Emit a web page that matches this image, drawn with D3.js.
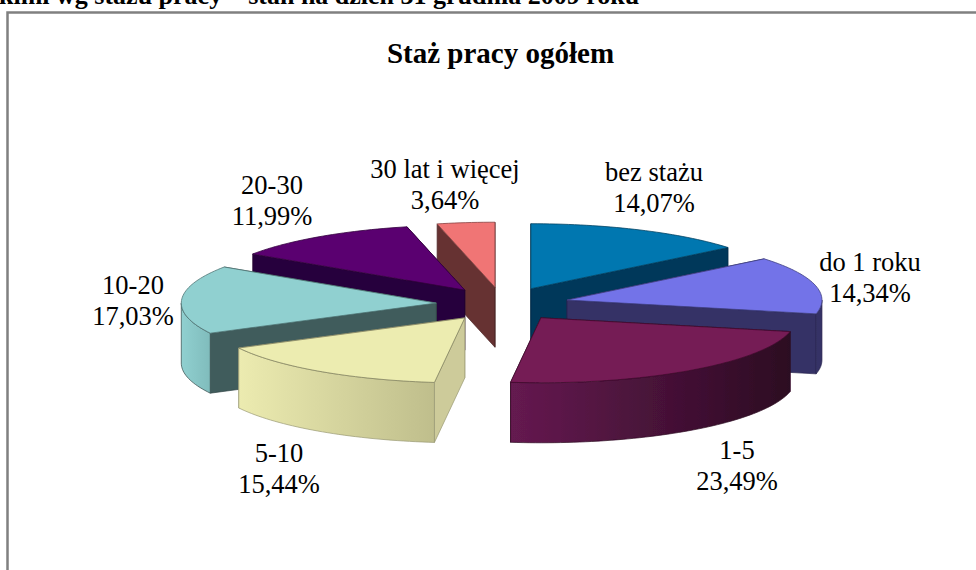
<!DOCTYPE html>
<html>
<head>
<meta charset="utf-8">
<script src="https://cdn.jsdelivr.net/npm/d3@7"></script>
<style>
  html, body { margin: 0; padding: 0; background: #fff; overflow: hidden; }
  text { font-family: "Liberation Serif", serif; fill: #000; }
</style>
</head>
<body>
<script>
const categories = ['bez stażu', 'do 1 roku', '1-5', '5-10', '10-20', '20-30', '30 lat i więcej']
const values = [14.07, 14.34, 23.49, 15.44, 17.03, 11.99, 3.64]
const valueLabels = ['14,07%', '14,34%', '23,49%', '15,44%', '17,03%', '11,99%', '3,64%']

const topColors = ['#0077b0', '#7373e8', '#751a55', '#ececb0', '#90d0d0', '#5a0070', '#f07575']
const faceColors = ['#00375a', '#343066', '#3c0d2c', '#cdcb9a', '#405c5c', '#28003c', '#663333']
const sideLeft = ['#00375a', '#343066', '#651a50', '#ecebb0', '#90d0d0', '#28003c', '#663333']
const sideRight = ['#00375a', '#343066', '#2c0a22', '#bfbe8c', '#80bcbc', '#28003c', '#663333']
const labelX = [654, 870, 737, 279, 133, 272, 445]
const labelY = [181, 271, 459, 462, 294, 194, 178]

const w = 976
const h = 570
const cx = 502.5
const cy = 304
const rx = 255
const ry = 65
const depth = 60
const explode = 0.26

const xScale = d3.scaleLinear().domain([-1, 1]).range([cx - rx, cx + rx])
const yScale = d3.scaleLinear().domain([-1, 1]).range([cy + ry, cy - ry])

const svg = d3.select('body').append('svg')
  .attr('width', w)
  .attr('height', h)
  .style('display', 'block')

const defs = svg.append('defs')
const blur = defs.append('filter').attr('id', 'soft')
blur.append('feGaussianBlur').attr('stdDeviation', 0.35)

// frame of the pasted chart
svg.append('path')
  .attr('d', 'M7.5,570V12.5H976')
  .attr('fill', 'none')
  .attr('stroke', '#808080')
  .attr('stroke-width', 2.5)

// heading above the chart, cut off by the top edge in the reference too
svg.append('text')
  .attr('x', -1)
  .attr('y', 4)
  .attr('font-size', 26)
  .attr('font-weight', 'bold')
  .text('kimi wg stażu pracy – stan na dzień 31 grudnia 2009 roku')

svg.append('text')
  .attr('x', 500.5)
  .attr('y', 63)
  .attr('text-anchor', 'middle')
  .attr('font-size', 29)
  .attr('font-weight', 'bold')
  .text('Staż pracy ogółem')

const pie = d3.pie().sort(null).value(d => d)
const slices = pie(values).map((d, i) => {
  const mid = (d.startAngle + d.endAngle) / 2
  return {
    i,
    a0: d.startAngle,
    a1: d.endAngle,
    mid,
    ox: explode * Math.sin(mid),
    oy: explode * Math.cos(mid)
  }
})

const line = d3.line().x(p => p[0]).y(p => p[1])

function rim(s, a, drop) {
  return [xScale(s.ox + Math.sin(a)), yScale(s.oy + Math.cos(a)) + drop]
}
function apex(s, drop) {
  return [xScale(s.ox), yScale(s.oy) + drop]
}
function arcPoints(s, a0, a1, drop) {
  const n = Math.max(2, Math.ceil((a1 - a0) * 40))
  return d3.range(n + 1).map(k => rim(s, a0 + (a1 - a0) * k / n, drop))
}

const order = slices.slice().sort((a, b) => Math.cos(b.mid) - Math.cos(a.mid))

const pieLayer = svg.append('g').attr('filter', 'url(#soft)')
order.forEach(s => {
  const g = pieLayer.append('g')
  const faceStroke = d3.color(faceColors[s.i]).darker(0.8)

  // radial walls, back facing ones are covered by what comes after
  const walls = [s.a0, s.a1].map((a, k) => ({ a, front: k === 0 ? Math.sin(a) <= 0.001 : Math.sin(a) > 0 }))
  walls.sort((a, b) => a.front - b.front).forEach(wall => {
    g.append('path')
      .attr('d', line([apex(s, 0), rim(s, wall.a, 0), rim(s, wall.a, depth), apex(s, depth)]) + 'Z')
      .attr('fill', faceColors[s.i])
      .attr('stroke', faceStroke)
      .attr('stroke-width', 0.7)
  })

  // outer curved wall, only the part turned to the viewer
  const from = Math.max(s.a0, Math.PI / 2)
  const to = Math.min(s.a1, Math.PI * 3 / 2)
  if (to > from) {
    const grad = defs.append('linearGradient')
      .attr('id', 'side' + s.i)
      .attr('x1', 0).attr('x2', 1).attr('y1', 0).attr('y2', 0)
    grad.append('stop').attr('offset', 0).attr('stop-color', sideLeft[s.i])
    grad.append('stop').attr('offset', 1).attr('stop-color', sideRight[s.i])
    const pts = arcPoints(s, from, to, 0).concat(arcPoints(s, from, to, depth).reverse())
    g.append('path')
      .attr('d', line(pts) + 'Z')
      .attr('fill', `url(#side${s.i})`)
      .attr('stroke', faceStroke)
      .attr('stroke-width', 0.7)
  }

  g.append('path')
    .attr('d', line([apex(s, 0)].concat(arcPoints(s, s.a0, s.a1, 0))) + 'Z')
    .attr('fill', topColors[s.i])
    .attr('stroke', d3.color(topColors[s.i]).darker(1.6))
    .attr('stroke-width', 0.8)
})

const labels = svg.append('g')
  .attr('font-size', 26.5)
  .attr('text-anchor', 'middle')
categories.forEach((c, i) => {
  labels.append('text').attr('x', labelX[i]).attr('y', labelY[i]).text(c)
  labels.append('text').attr('x', labelX[i]).attr('y', labelY[i] + 31).text(valueLabels[i])
})
</script>
</body>
</html>
